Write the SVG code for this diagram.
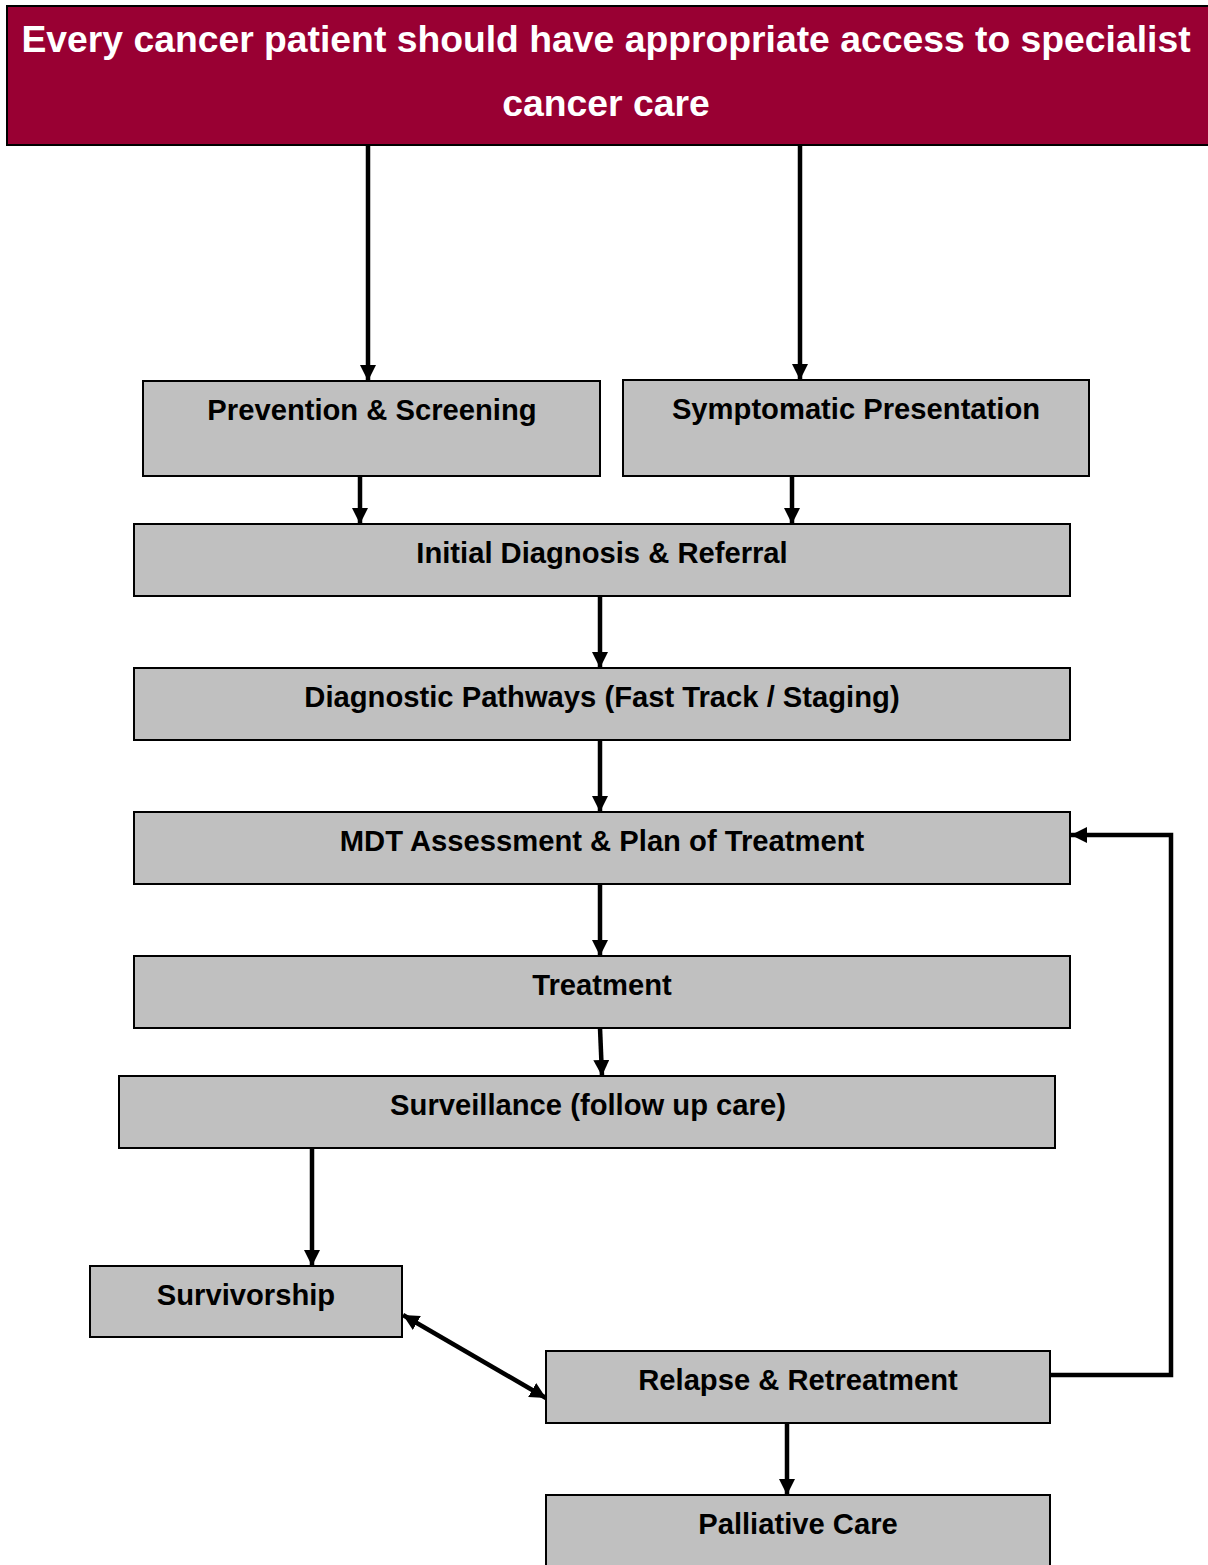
<svg xmlns="http://www.w3.org/2000/svg" width="1208" height="1565" viewBox="0 0 1208 1565">
<style>
.box{fill:#c0c0c0;stroke:#000;stroke-width:2}
.lbl{font-family:"Liberation Sans",Arial,sans-serif;font-weight:bold;font-size:29.2px;fill:#000;text-anchor:middle}
.hdr{font-family:"Liberation Sans",Arial,sans-serif;font-weight:bold;font-size:37.3px;fill:#fff;text-anchor:middle}
.con{stroke:#000;stroke-width:4.5;fill:none}
</style>
<defs>
<marker id="ah" markerUnits="userSpaceOnUse" markerWidth="18" markerHeight="16" refX="16" refY="8" orient="auto-start-reverse" viewBox="0 0 18 16">
<path d="M0,0 L16,8 L0,16 Z" fill="#000"/>
</marker>
</defs>
<rect width="1208" height="1565" fill="#fff"/>
<g id="header">
<rect x="7" y="6" width="1202" height="139" fill="#990033" stroke="#000" stroke-width="2"/>
<text class="hdr" x="606" y="52">Every cancer patient should have appropriate access to specialist</text>
<text class="hdr" x="606" y="116">cancer care</text>
</g>
<g id="prevention">
<rect class="box" x="143" y="381" width="457" height="95"/>
<text class="lbl" x="372" y="420">Prevention &amp; Screening</text>
</g>
<g id="symptomatic">
<rect class="box" x="623" y="380" width="466" height="96"/>
<text class="lbl" x="856" y="419">Symptomatic Presentation</text>
</g>
<g id="initial">
<rect class="box" x="134" y="524" width="936" height="72"/>
<text class="lbl" x="602" y="563">Initial Diagnosis &amp; Referral</text>
</g>
<g id="diagnostic">
<rect class="box" x="134" y="668" width="936" height="72"/>
<text class="lbl" x="602" y="707">Diagnostic Pathways (Fast Track / Staging)</text>
</g>
<g id="mdt">
<rect class="box" x="134" y="812" width="936" height="72"/>
<text class="lbl" x="602" y="851">MDT Assessment &amp; Plan of Treatment</text>
</g>
<g id="treatment">
<rect class="box" x="134" y="956" width="936" height="72"/>
<text class="lbl" x="602" y="995">Treatment</text>
</g>
<g id="surveillance">
<rect class="box" x="119" y="1076" width="936" height="72"/>
<text class="lbl" x="588" y="1115">Surveillance (follow up care)</text>
</g>
<g id="survivorship">
<rect class="box" x="90" y="1266" width="312" height="71"/>
<text class="lbl" x="246" y="1305">Survivorship</text>
</g>
<g id="relapse">
<rect class="box" x="546" y="1351" width="504" height="72"/>
<text class="lbl" x="798" y="1390">Relapse &amp; Retreatment</text>
</g>
<g id="palliative">
<rect class="box" x="546" y="1495" width="504" height="76"/>
<text class="lbl" x="798" y="1534">Palliative Care</text>
</g>
<g id="connectors">
<line class="con" x1="368" y1="145" x2="368" y2="381" marker-end="url(#ah)"/>
<line class="con" x1="800" y1="145" x2="800" y2="380" marker-end="url(#ah)"/>
<line class="con" x1="360" y1="476" x2="360" y2="524" marker-end="url(#ah)"/>
<line class="con" x1="792" y1="476" x2="792" y2="524" marker-end="url(#ah)"/>
<line class="con" x1="600" y1="596" x2="600" y2="668" marker-end="url(#ah)"/>
<line class="con" x1="600" y1="740" x2="600" y2="812" marker-end="url(#ah)"/>
<line class="con" x1="600" y1="884" x2="600" y2="956" marker-end="url(#ah)"/>
<line class="con" x1="600" y1="1028" x2="602" y2="1076" marker-end="url(#ah)"/>
<line class="con" x1="312" y1="1148" x2="312" y2="1266" marker-end="url(#ah)"/>
<line class="con" x1="403" y1="1315" x2="546" y2="1398" marker-start="url(#ah)" marker-end="url(#ah)"/>
<polyline class="con" points="1050,1375 1171,1375 1171,835 1071,835" marker-end="url(#ah)"/>
<line class="con" x1="787" y1="1423" x2="787" y2="1495" marker-end="url(#ah)"/>
</g>
</svg>
